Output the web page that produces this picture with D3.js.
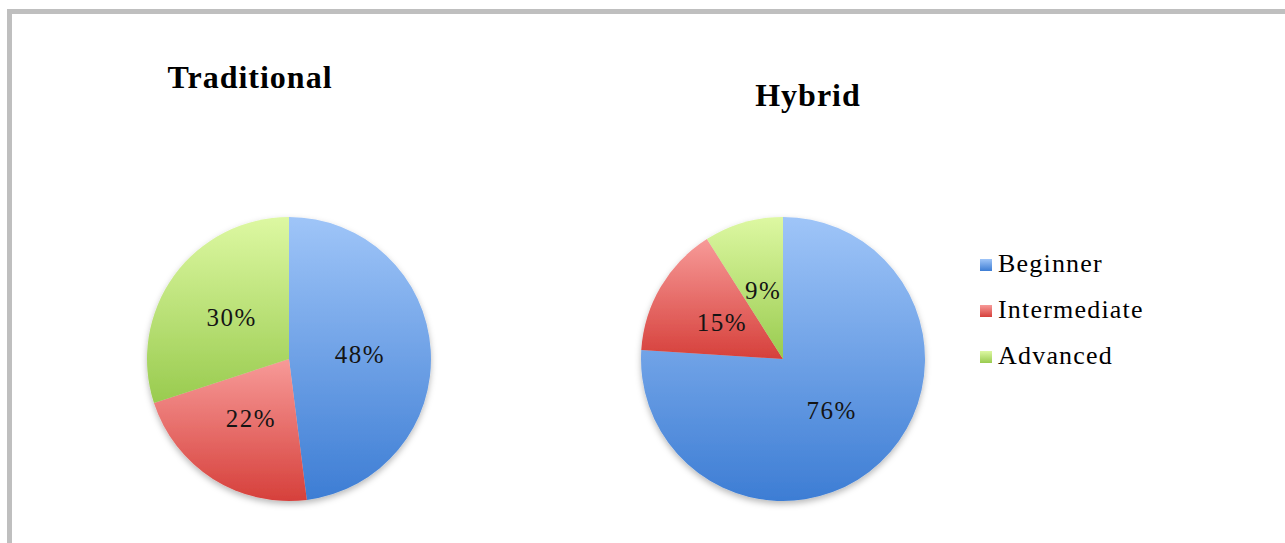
<!DOCTYPE html>
<html>
<head>
<meta charset="utf-8">
<script src="https://cdn.jsdelivr.net/npm/d3@7"></script>
<style>
  html, body { margin: 0; padding: 0; background: #ffffff; }
  svg { display: block; }
</style>
</head>
<body>
<svg id="chart" width="1285" height="543"></svg>
<script>
// Skill levels and their share (%) for each course format
const categories = ["Beginner", "Intermediate", "Advanced"];
const traditionalValues = [48, 22, 30];
const hybridValues = [76, 15, 9];
const chartTitles = ["Traditional", "Hybrid"];

// Light (top) and dark (bottom) stops for each category's vertical gradient
const lightColors = ["#9fc5f8", "#f79a98", "#ddf8a2"];
const darkColors = ["#3d7dd4", "#d6403b", "#99cb4f"];

const svg = d3.select("#chart");
const W = 1285, H = 543;

const defs = svg.append("defs");
categories.forEach((c, i) => {
  const g = defs.append("linearGradient")
    .attr("id", "grad-" + i)
    .attr("x1", 0).attr("y1", 0).attr("x2", 0).attr("y2", 1);
  g.append("stop").attr("offset", "0%").attr("stop-color", lightColors[i]);
  g.append("stop").attr("offset", "100%").attr("stop-color", darkColors[i]);
});

const shadow = defs.append("filter").attr("id", "pie-shadow")
  .attr("x", "-20%").attr("y", "-20%").attr("width", "140%").attr("height", "140%");
shadow.append("feDropShadow")
  .attr("dx", 0).attr("dy", 3).attr("stdDeviation", 3)
  .attr("flood-color", "#000").attr("flood-opacity", 0.28);

// Frame on the top and left edges
svg.append("path")
  .attr("d", d3.line()([[9.5, H], [9.5, 11.5], [W, 11.5]]))
  .attr("fill", "none")
  .attr("stroke", "#bfbfbf")
  .attr("stroke-width", 5);

const font = "'Liberation Serif', 'Times New Roman', serif";
const radius = 142;

const pie = d3.pie().value(d => d).sort(null);
const arc = d3.arc().innerRadius(0).outerRadius(radius);
const color = d3.scaleOrdinal().domain(d3.range(categories.length))
  .range(d3.range(categories.length).map(i => `url(#grad-${i})`));

const charts = [
  { title: chartTitles[0], values: traditionalValues, cx: 289, cy: 359, tx: 250, ty: 88 },
  { title: chartTitles[1], values: hybridValues, cx: 783, cy: 359, tx: 808, ty: 106 }
];

charts.forEach(ch => {
  svg.append("text")
    .attr("x", ch.tx).attr("y", ch.ty)
    .attr("text-anchor", "middle")
    .attr("font-family", font)
    .attr("font-weight", "bold")
    .attr("font-size", 32)
    .attr("letter-spacing", 1)
    .attr("fill", "#000")
    .text(ch.title);

  const g = svg.append("g").attr("transform", `translate(${ch.cx},${ch.cy})`);
  const arcs = pie(ch.values);

  g.append("g").attr("filter", "url(#pie-shadow)")
    .selectAll("path")
    .data(arcs)
    .join("path")
    .attr("d", arc)
    .attr("fill", (d, i) => color(i));

  g.selectAll("text.lbl")
    .data(arcs)
    .join("text")
    .attr("class", "lbl")
    .attr("transform", d => `translate(${arc.centroid(d)})`)
    .attr("text-anchor", "middle")
    .attr("dy", "0.34em")
    .attr("font-family", font)
    .attr("font-size", 25)
    .attr("letter-spacing", 1.5)
    .attr("fill", "#141414")
    .text(d => d.data + "%");
});

// Legend
const legendY = d3.scalePoint().domain(categories).range([265, 357]);
const legend = svg.append("g");
categories.forEach((c, i) => {
  const y = legendY(c);
  legend.append("rect")
    .attr("x", 980).attr("y", y - 6)
    .attr("width", 12).attr("height", 12)
    .attr("fill", color(i));
  legend.append("text")
    .attr("x", 998).attr("y", y + 7)
    .attr("font-family", font)
    .attr("font-size", 26)
    .attr("letter-spacing", 1.2)
    .attr("fill", "#000")
    .text(c);
});
</script>
</body>
</html>
